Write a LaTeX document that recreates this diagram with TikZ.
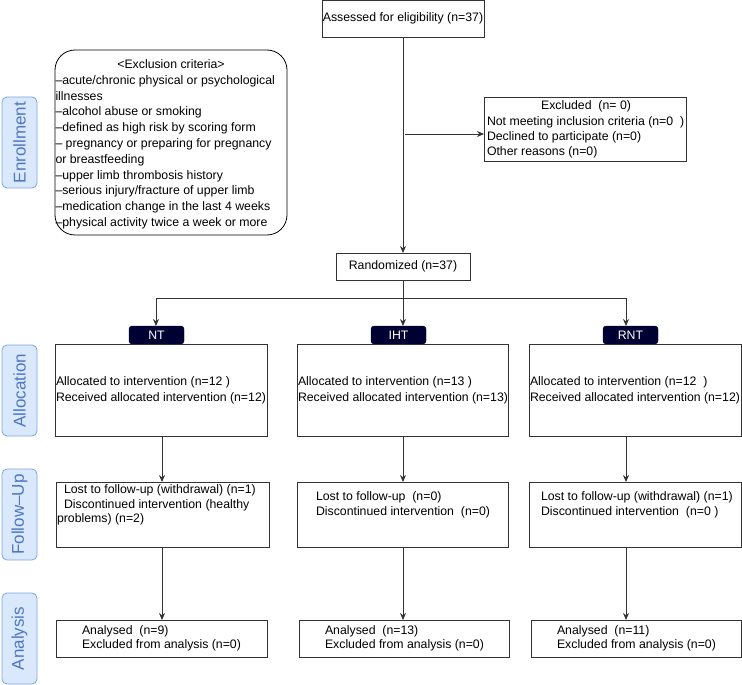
\documentclass[tikz,border=0pt]{standalone}
\usepackage{fontspec}
\setmainfont{Liberation Sans}
\usetikzlibrary{arrows.meta,positioning,calc}
\definecolor{lblfill}{HTML}{DAE8FC}
\definecolor{lbldraw}{HTML}{7EA6E0}
\definecolor{lbltext}{HTML}{4F77BE}
\definecolor{tabfill}{HTML}{000033}
\definecolor{linec}{HTML}{333333}
\begin{document}
\begin{tikzpicture}[x=1pt,y=-1pt,
  every node/.style={font=\fontsize{12.3}{14.5}\selectfont, inner sep=0pt, outer sep=0pt},
  box/.style={draw=linec, line width=0.8pt, rectangle},
  lbl/.style={draw=lbldraw, fill=lblfill, rounded corners=5pt, line width=0.8pt,
     minimum width=35pt, text=lbltext, font=\fontsize{17}{20}\selectfont},
  tabbox/.style={fill=tabfill, draw=tabfill, rounded corners=3pt, minimum width=55pt, minimum height=18pt, text=white},
  arr/.style={draw=linec, line width=0.8pt, -{Stealth[length=7pt,width=6pt]}},
  ln/.style={draw=linec, line width=0.8pt}
]
\useasboundingbox (0,0) rectangle (742,685);

% side labels
\node[lbl, minimum height=91pt] (lenr) at (19.5,142.5) {\rotatebox{90}{Enrollment}};
\node[lbl, minimum height=91pt] (lalloc) at (19.5,390.5) {\rotatebox{90}{Allocation}};
\node[lbl, minimum height=91pt] (lfu) at (19.5,514.5) {\rotatebox{90}{Follow--Up}};
\node[lbl, minimum height=91pt] (lan) at (19.5,638.5) {\rotatebox{90}{Analysis}};

% top
\node[box, minimum width=162pt, minimum height=36.5pt] (assess) at (403,18.75) {Assessed for eligibility (n=37)};
\node[box, minimum width=202pt, minimum height=64pt] (excl) at (585,129) {};
\node[anchor=north west] (excltext) at (487,101)
  {\parbox{198pt}{\fontsize{12.3}{15.3}\selectfont\centering Excluded\ \ (n= 0)\par\raggedright
   Not meeting inclusion criteria (n=0\ \ )\\Declined to participate (n=0)\\Other reasons (n=0)}};
\node[box, minimum width=134pt, minimum height=27pt] (rand) at (403,266.5) {Randomized (n=37)};

\node[draw=black, line width=0.8pt, rounded corners=20pt, minimum width=232pt, minimum height=185pt] (crit) at (171,142.5) {};
\node[anchor=north west] (crittext) at (55.5,59.5)
  {\parbox{231pt}{\fontsize{12.3}{15.8}\selectfont\centering <Exclusion criteria>\par\raggedright
   --acute/chronic physical or psychological\\illnesses\\
   --alcohol abuse or smoking\\
   --defined as high risk by scoring form\\
   -- pregnancy or preparing for pregnancy\\or breastfeeding\\
   --upper limb thrombosis history\\
   --serious injury/fracture of upper limb\\
   --medication change in the last 4 weeks\\
   --physical activity twice a week or more}};

\coordinate (exstart) at (405,134);
\draw[arr] (exstart) -- (excl.west |- exstart);
\draw[arr] (assess) -- (rand);

% tabs
\node[tabbox] (tnt) at (156.5,335) {NT};
\node[tabbox] (tiht) at (398.5,335) {IHT};
\node[tabbox] (trnt) at (630.5,335) {RNT};

\coordinate (bl) at (156,298);
\coordinate (bm) at (403,298);
\coordinate (br) at (626,298);
\draw[ln] (rand) -- (bm);
\draw[arr] (bm) -- (bl) -- (bl |- tnt.north);
\draw[arr] (bm) -- (br) -- (br |- trnt.north);
\draw[arr] (bm) -- (bm |- tiht.north);

% allocation
\newcommand{\alloctext}[2]{\parbox{210pt}{\fontsize{12.3}{16}\selectfont\raggedright Allocated to intervention (n=#1)\\Received allocated intervention (n=#2)}}
\node[box, minimum width=212pt, minimum height=92pt] (ant) at (161,390) {};
\node[anchor=west] (antt) at (56,390) {\alloctext{12\ }{12}};
\node[box, minimum width=211pt, minimum height=92pt] (aiht) at (402.5,390) {};
\node[anchor=west] (aihtt) at (298,390) {\alloctext{13\ }{13}};
\node[box, minimum width=212pt, minimum height=92pt] (arnt) at (635,390) {};
\node[anchor=west] (arntt) at (530,390) {\alloctext{12\ \ }{12}};

% follow-up
\node[box, minimum width=213pt, minimum height=65pt] (fnt) at (162.5,514.5) {};
\node[anchor=north west] (fntt) at (57,485) {\parbox{210pt}{\fontsize{12.3}{14.2}\selectfont\raggedright
  \hspace*{7pt}Lost to follow-up (withdrawal) (n=1)\\\hspace*{7pt}Discontinued intervention (healthy\\problems) (n=2)}};
\node[box, minimum width=211pt, minimum height=65pt] (fiht) at (402.5,514.5) {};
\node[anchor=north west] (fihtt) at (316,492) {\parbox{190pt}{\fontsize{12.3}{14.2}\selectfont\raggedright
  Lost to follow-up\ \ (n=0)\\Discontinued intervention\ \ (n=0)}};
\node[box, minimum width=212pt, minimum height=65pt] (frnt) at (635,514.5) {};
\node[anchor=north west] (frntt) at (541,492) {\parbox{198pt}{\fontsize{12.3}{14.2}\selectfont\raggedright
  Lost to follow-up (withdrawal) (n=1)\\Discontinued intervention\ \ (n=0 )}};

% analysis
\newcommand{\antext}[1]{\parbox{180pt}{\fontsize{12.3}{14}\selectfont\raggedright Analysed\ \ (n=#1)\\Excluded from analysis (n=0)}}
\node[box, minimum width=211pt, minimum height=37pt] (nnt) at (161.5,638.5) {};
\node[anchor=west] (nntt) at (82,638.5) {\antext{9}};
\node[box, minimum width=210pt, minimum height=37pt] (niht) at (404,638.5) {};
\node[anchor=west] (nihtt) at (325,638.5) {\antext{13}};
\node[box, minimum width=210pt, minimum height=37pt] (nrnt) at (636,638.5) {};
\node[anchor=west] (nrntt) at (557,638.5) {\antext{11}};

% vertical arrows
\coordinate (c1) at (162,0);
\coordinate (c2) at (403,0);
\coordinate (c3) at (626,0);
\draw[arr] (c1 |- ant.south) -- (c1 |- fnt.north);
\draw[arr] (c2 |- aiht.south) -- (c2 |- fiht.north);
\draw[arr] (c3 |- arnt.south) -- (c3 |- frnt.north);
\draw[arr] (c1 |- fnt.south) -- (c1 |- nnt.north);
\draw[arr] (c2 |- fiht.south) -- (c2 |- niht.north);
\draw[arr] (c3 |- frnt.south) -- (c3 |- nrnt.north);
\end{tikzpicture}
\end{document}
